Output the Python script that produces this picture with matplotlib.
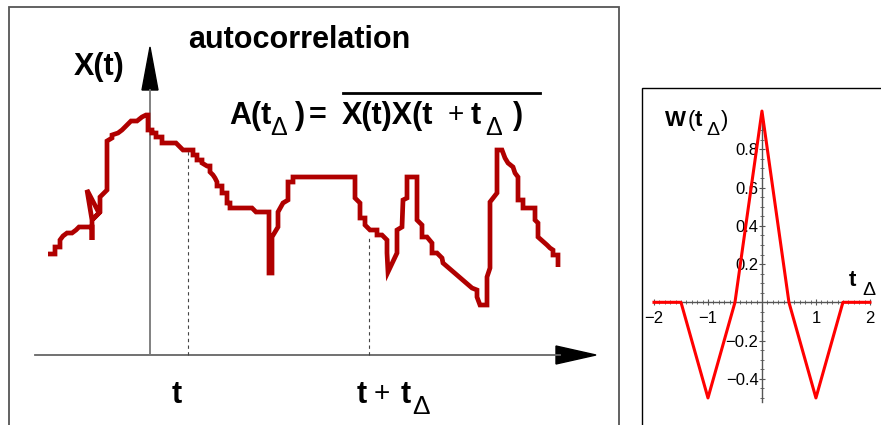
import matplotlib
matplotlib.use("Agg")
import matplotlib.pyplot as plt
import numpy as np
from matplotlib.patches import Rectangle, Polygon

# ################### DATA ####################
# sketch of X(t): (pixel x, pixel row)
trace_pts = [
    (48, 254), (55, 254), (55, 247), (60, 247), (60, 240), (63, 236), (67, 233),
    (72, 233), (76, 230), (79, 227), (86, 227), (92, 227), (92, 240), (92, 220),
    (87, 190), (99, 213), (93, 219), (100, 212), (100, 197), (103, 194),
    (107, 190),
    (107, 141), (112, 138), (112, 135), (118, 133), (122, 130), (127, 125),
    (131, 121), (137, 121), (142, 117), (146, 115), (148, 115), (148, 130),
    (152, 130), (152, 133), (156, 133), (156, 137), (162, 137), (162, 143),
    (176, 143), (180, 147), (183, 150), (193, 150), (193, 155), (197, 155),
    (197, 160), (202, 160), (202, 163), (207, 166), (210, 166), (210, 172),
    (213, 175), (215, 178), (217, 182), (217, 186), (222, 186), (222, 193),
    (227, 193), (227, 203), (230, 203), (230, 208), (252, 208), (256, 212),
    (269, 212), (269, 273), (272, 273), (272, 237), (278, 227), (278, 212),
    (283, 203), (288, 200), (288, 182), (293, 182), (293, 177), (355, 177),
    (355, 198), (360, 203), (360, 218), (365, 218), (365, 225), (370, 230),
    (377, 230), (377, 235), (382, 235), (387, 240), (387, 253), (388, 272),
    (397, 253), (397, 230), (402, 227), (403, 200), (407, 198), (407, 177),
    (417, 177), (417, 220), (422, 225), (422, 237), (427, 237), (432, 243),
    (432, 253), (437, 253), (442, 258), (443, 263), (472, 288), (477, 290),
    (477, 297), (480, 305), (487, 305), (487, 277), (490, 268), (490, 202),
    (497, 193), (497, 150), (502, 150), (505, 158), (508, 163), (513, 167),
    (515, 173), (518, 177), (518, 200), (523, 200), (523, 208), (535, 208),
    (535, 220), (538, 223), (538, 237), (547, 245), (550, 248), (553, 250),
    (553, 255), (558, 255), (558, 267),
]
trace_x = [p[0] for p in trace_pts]
axis_row = 355
trace_h = [axis_row - p[1] for p in trace_pts]

t_mark = 188
t_shift_mark = 369

# W(t_delta)
w_t = [-2, -1.5, -1, -0.5, 0, 0.5, 1, 1.5, 2]
w_val = [0, 0, -0.5, 0, 1.0, 0, -0.5, 0, 0]
x_ticks = [-2, -1, 1, 2]
y_ticks = [-0.4, -0.2, 0.2, 0.4, 0.6, 0.8]

# ################### FIGURE ####################
plt.rcParams['font.family'] = ['Liberation Sans', 'DejaVu Sans']

fig = plt.figure(figsize=(8.81, 4.25), dpi=100)

# left sketch, coordinates in pixels, height measured up from the time axis
ax = fig.add_axes([0, 0, 1, 1])
ax.set_xlim(0, 881)
ax.set_ylim(axis_row - 425, axis_row)
ax.axis("off")


def row(y):
    return axis_row - y


ax.add_patch(Rectangle((9, -100), 610, axis_row - 6.5 + 100, fill=False,
                       edgecolor="#555555", lw=1.3))
ax.add_patch(Rectangle((642, -100), 300, axis_row - 88 + 100, fill=False,
                       edgecolor="black", lw=1.0))

# axes with arrows
ax.plot([35, 560], [0, 0], color="#666666", lw=1.3)
ax.add_patch(Polygon([[556, 9], [596, 0], [556, -9]], closed=True, color="black"))
ax.plot([150, 150], [0, row(90)], color="#777777", lw=1.3)
ax.add_patch(Polygon([[142, row(90)], [150, row(47)], [158, row(90)]],
                     closed=True, color="black"))

# dashed guides
ax.plot([t_mark, t_mark], [0, row(150)], color="#444444", lw=0.8,
        ls=(0, (3, 3)))
ax.plot([t_shift_mark, t_shift_mark], [0, row(238)], color="#444444",
        lw=0.8, ls=(0, (3, 3)))

ax.plot(trace_x, trace_h, color="#b00000", lw=3.4, solid_joinstyle="miter",
        solid_capstyle="butt")

big = 22
ax.text(188, row(48), "autocorrelation", fontsize=big, fontweight="bold",
        ha="left", va="baseline")
ax.text(74, row(75), "X(t)", fontsize=big, fontweight="bold",
        ha="left", va="baseline")

# A(t_delta) = X(t)X(t + t_delta), placed piece by piece
ax.text(229, row(124), "A(t", fontsize=big, fontweight="bold", va="baseline")
ax.text(270, row(135), "\u0394", fontsize=18, va="baseline")
ax.text(295, row(124), ")", fontsize=big, fontweight="bold", va="baseline")
ax.text(309, row(124), "=", fontsize=big, fontweight="bold", va="baseline")
ax.text(342, row(124), "X(t)X(t", fontsize=big, fontweight="bold",
        va="baseline")
ax.text(448, row(122), "+", fontsize=20, va="baseline")
ax.text(471, row(124), "t", fontsize=big, fontweight="bold", va="baseline")
ax.text(485, row(135), "\u0394", fontsize=18, va="baseline")
ax.text(513, row(124), ")", fontsize=big, fontweight="bold", va="baseline")
ax.plot([343, 540], [row(93), row(93)], color="black", lw=2)

ax.text(172, row(403), "t", fontsize=big, fontweight="bold", va="baseline")
ax.text(357, row(403), "t", fontsize=big, fontweight="bold", va="baseline")
ax.text(374, row(401), "+", fontsize=20, va="baseline")
ax.text(401, row(403), "t", fontsize=big, fontweight="bold", va="baseline")
ax.text(412, row(414), "\u0394", fontsize=19, va="baseline")

# right: W(t_delta)
ax2 = fig.add_axes([648.6 / 881, (425 - 407.5) / 425, (878 - 648.6) / 881,
                    (407.5 - 101.5) / 425])
ax2.set_xlim(-2.1, 2.15)
ax2.set_ylim(-0.55, 1.05)
ax2.patch.set_alpha(0)
ax2.plot(w_t, w_val, color="#ff0000", lw=2.2, zorder=3)
for s in ["top", "right"]:
    ax2.spines[s].set_visible(False)
ax2.spines["left"].set_position(("data", 0))
ax2.spines["bottom"].set_position(("data", 0))
ax2.spines["left"].set_bounds(-0.52, 0.97)
ax2.spines["bottom"].set_bounds(-2, 2)
for s in ["left", "bottom"]:
    ax2.spines[s].set_color("#555555")
    ax2.spines[s].set_linewidth(1.0)
ax2.set_xticks(x_ticks)
ax2.set_xticklabels([f"{v:g}".replace("-", "\u2212") for v in x_ticks])
ax2.set_yticks(y_ticks)
ax2.set_yticklabels([f"{v:g}".replace("-", "\u2212") for v in y_ticks])
ax2.set_xticks(np.arange(-2, 2.01, 0.1), minor=True)
ax2.set_yticks(np.arange(-0.5, 0.96, 0.05), minor=True)
ax2.tick_params(which="major", direction="inout", length=5, width=0.8,
                color="#555555", labelsize=12, pad=4)
ax2.tick_params(which="minor", direction="inout", length=2.5, width=0.6,
                color="#555555")
ax2.tick_params(axis="y", pad=0)

# W(t_delta) and t_delta labels in pixel coords of the main sketch axes
ax.text(665, row(126), "W", fontsize=16, fontweight="bold", va="baseline")
ax.text(688, row(126), "(", fontsize=16, va="baseline")
ax.text(695, row(126), "t", fontsize=16, fontweight="bold", va="baseline")
ax.text(706, row(135), "\u0394", fontsize=14, va="baseline")
ax.text(721, row(126), ")", fontsize=16, va="baseline")
ax.text(849, row(286), "t", fontsize=16, fontweight="bold", va="baseline")
ax.text(862, row(295), "\u0394", fontsize=14, va="baseline")

fig.savefig("out.png", dpi=100)
